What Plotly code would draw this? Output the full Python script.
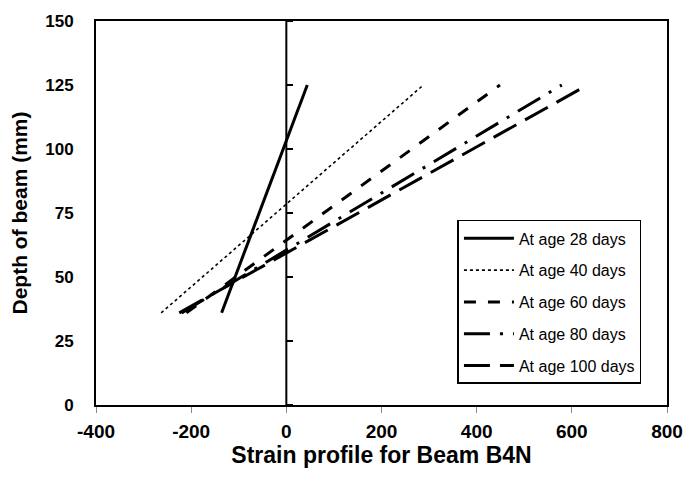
import plotly.graph_objects as go

ages = ["At age 28 days", "At age 40 days", "At age 60 days", "At age 80 days", "At age 100 days"]
depth = [36, 125]
strain_28 = [-136, 44]
strain_40 = [-263, 288]
strain_60 = [-210, 449]
strain_80 = [-220, 579]
strain_100 = [-225, 633]

x_ticks = [-400, -200, 0, 200, 400, 600, 800]
y_ticks = [0, 25, 50, 75, 100, 125, 150]

series = [strain_28, strain_40, strain_60, strain_80, strain_100]
styles = [
    dict(width=3, dash="solid"),
    dict(width=1.6, dash="dot"),
    dict(width=3, dash="12px,12px"),
    dict(width=3, dash="26px,10px,3px,10px"),
    dict(width=3, dash="26px,10px"),
]

fig = go.Figure()
for i, (name, s, st) in enumerate(zip(ages, series, styles)):
    fig.add_trace(go.Scatter(
        x=s, y=depth, mode="lines", name=name, legendgroup=f"g{i}",
        line=dict(color="black", width=st["width"], dash=st["dash"]),
    ))

# vertical axis line drawn at x = 0 (secondary axis anchor)
fig.add_trace(go.Scatter(x=[0, 0], y=[0, 150], yaxis="y2", mode="lines",
                         line=dict(color="black", width=2), showlegend=False,
                         hoverinfo="skip"))

xtickfont = dict(family="Liberation Sans", size=19, color="black")
ytickfont = dict(family="Liberation Sans", size=17, color="black")
titlefont = dict(family="Liberation Sans", size=23, color="black")

fig.update_layout(
    width=695, height=479,
    margin=dict(l=96, r=24, t=18, b=74),
    plot_bgcolor="white", paper_bgcolor="white",
    xaxis=dict(
        range=[-400, 800], tickvals=x_ticks, ticktext=[f"<b>{v}</b>" for v in x_ticks],
        tickfont=xtickfont, showgrid=False, zeroline=False,
        showline=True, linecolor="black", linewidth=2, mirror=True,
        ticks="outside", ticklen=6, tickcolor="#888", tickwidth=1,
        ticklabelstandoff=2,
        title=dict(text="<b>Strain profile for Beam B4N</b>", font=titlefont, standoff=6),
    ),
    yaxis=dict(
        range=[0, 150], tickvals=y_ticks, ticktext=[f"<b>{v}</b>" for v in y_ticks],
        tickfont=ytickfont, showgrid=False, zeroline=False,
        showline=True, linecolor="black", linewidth=2, mirror=True,
        ticks="", ticklabelstandoff=17,
        title=dict(text="<b>Depth of beam (mm)</b>", font=dict(family="Liberation Sans", size=21, color="black"), standoff=12),
    ),
    yaxis2=dict(
        range=[0, 150], overlaying="y", anchor="free", position=1/3, side="right",
        tickvals=y_ticks, showticklabels=False, ticks="outside", ticklen=6,
        tickcolor="black", tickwidth=1.5, showgrid=False, zeroline=False, showline=False,
    ),
    legend=dict(
        x=0.633, y=0.482, xanchor="left", yanchor="top",
        bgcolor="white", bordercolor="black", borderwidth=1.5,
        font=dict(family="Liberation Sans", size=16, color="black"),
        tracegroupgap=8, itemwidth=50,
    ),
    showlegend=True,
)

fig.write_html("out.html")
